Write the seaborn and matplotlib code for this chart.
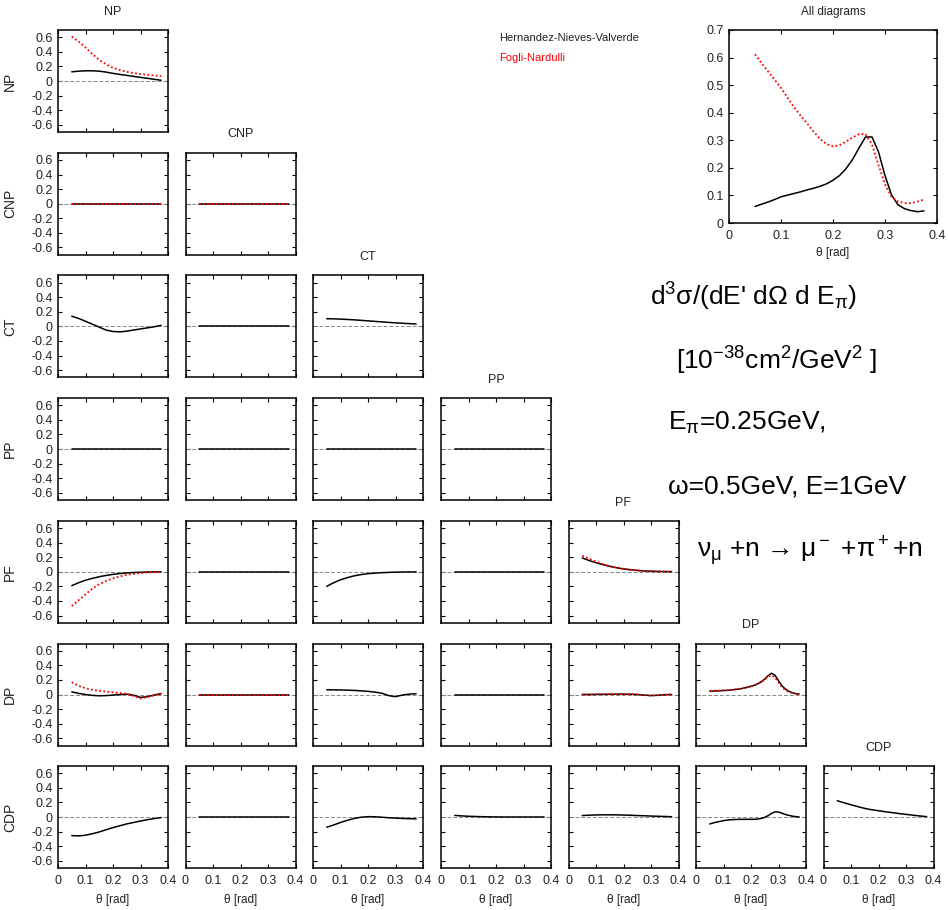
import matplotlib
matplotlib.use("Agg")
import matplotlib.pyplot as plt
import seaborn as sns

sns.set_style("ticks")
plt.rcParams["font.family"] = ["Liberation Sans", "DejaVu Sans"]
plt.rcParams["mathtext.fontset"] = "custom"
plt.rcParams["mathtext.rm"] = "Liberation Sans"
plt.rcParams["mathtext.it"] = "Liberation Sans:italic"
plt.rcParams["mathtext.bf"] = "Liberation Sans:bold"
plt.rcParams["mathtext.sf"] = "Liberation Sans"
plt.rcParams["mathtext.default"] = "regular"

# ---------------- data ----------------
diagrams = ["NP", "CNP", "CT", "PP", "PF", "DP", "CDP"]

theta = [0.05, 0.075, 0.1, 0.125, 0.15, 0.175, 0.2, 0.225, 0.25, 0.275,
         0.3, 0.325, 0.35, 0.375]
theta_fine = [0.05, 0.0625, 0.075, 0.0875, 0.1, 0.1125, 0.125, 0.1375, 0.15,
              0.1625, 0.175, 0.1875, 0.2, 0.2125, 0.225, 0.2375, 0.25, 0.2625,
              0.275, 0.2875, 0.3, 0.3125, 0.325, 0.3375, 0.35, 0.3625, 0.375]

# "All diagrams" panel (Hernandez-Nieves-Valverde = hnv, Fogli-Nardulli = fn)
all_hnv = [0.060, 0.068, 0.076, 0.085, 0.095, 0.101, 0.107, 0.113, 0.120,
           0.126, 0.133, 0.142, 0.155, 0.172, 0.197, 0.230, 0.272, 0.312,
           0.312, 0.258, 0.172, 0.102, 0.066, 0.052, 0.045, 0.041, 0.044]
all_fn = [0.612, 0.580, 0.550, 0.520, 0.490, 0.455, 0.420, 0.390, 0.362,
          0.332, 0.305, 0.286, 0.278, 0.282, 0.295, 0.310, 0.322, 0.323,
          0.285, 0.210, 0.140, 0.095, 0.078, 0.072, 0.072, 0.078, 0.085]

# row NP
np_np_hnv = [0.126, 0.135, 0.140, 0.140, 0.135, 0.122, 0.105, 0.090, 0.077,
             0.063, 0.050, 0.037, 0.023, 0.010]
np_np_fn = [0.610, 0.540, 0.460, 0.370, 0.290, 0.230, 0.180, 0.150, 0.126,
            0.108, 0.095, 0.085, 0.076, 0.068]

# row CNP
cnp_np_hnv = [0.0, 0.0, 0.0, 0.0, 0.0, 0.0, 0.0, 0.0, 0.0, 0.0, 0.0, 0.0, 0.0, 0.0]
cnp_np_fn = [0.0, 0.0, 0.0, 0.0, 0.0, 0.0, 0.0, 0.0, 0.0, 0.0, 0.0, 0.0, 0.0, 0.0]
cnp_cnp_hnv = [0.0, 0.0, 0.0, 0.0, 0.0, 0.0, 0.0, 0.0, 0.0, 0.0, 0.0, 0.0, 0.0, 0.0]
cnp_cnp_fn = [0.0, 0.0, 0.0, 0.0, 0.0, 0.0, 0.0, 0.0, 0.0, 0.0, 0.0, 0.0, 0.0, 0.0]

# row CT
ct_np_hnv = [0.140, 0.110, 0.070, 0.030, -0.010, -0.050, -0.070, -0.075,
             -0.065, -0.050, -0.035, -0.020, -0.005, 0.015]
ct_cnp_hnv = [0.0, 0.0, 0.0, 0.0, 0.0, 0.0, 0.0, 0.0, 0.0, 0.0, 0.0, 0.0, 0.0, 0.0]
ct_ct_hnv = [0.105, 0.104, 0.100, 0.095, 0.090, 0.083, 0.076, 0.069, 0.062,
             0.055, 0.049, 0.043, 0.038, 0.033]

# row PP
pp_np_hnv = [0.0, 0.0, 0.0, 0.0, 0.0, 0.0, 0.0, 0.0, 0.0, 0.0, 0.0, 0.0, 0.0, 0.0]
pp_cnp_hnv = [0.0, 0.0, 0.0, 0.0, 0.0, 0.0, 0.0, 0.0, 0.0, 0.0, 0.0, 0.0, 0.0, 0.0]
pp_ct_hnv = [0.0, 0.0, 0.0, 0.0, 0.0, 0.0, 0.0, 0.0, 0.0, 0.0, 0.0, 0.0, 0.0, 0.0]
pp_pp_hnv = [0.0, 0.0, 0.0, 0.0, 0.0, 0.0, 0.0, 0.0, 0.0, 0.0, 0.0, 0.0, 0.0, 0.0]

# row PF
pf_np_hnv = [-0.190, -0.150, -0.115, -0.090, -0.068, -0.050, -0.035, -0.024,
             -0.016, -0.010, -0.006, -0.003, -0.001, 0.0]
pf_np_fn = [-0.470, -0.390, -0.310, -0.230, -0.170, -0.125, -0.090, -0.063,
            -0.042, -0.028, -0.018, -0.010, -0.005, -0.001]
pf_cnp_hnv = [0.0, 0.0, 0.0, 0.0, 0.0, 0.0, 0.0, 0.0, 0.0, 0.0, 0.0, 0.0, 0.0, 0.0]
pf_ct_hnv = [-0.200, -0.150, -0.110, -0.080, -0.055, -0.038, -0.026, -0.018,
             -0.012, -0.008, -0.005, -0.003, -0.002, -0.001]
pf_pp_hnv = [0.0, 0.0, 0.0, 0.0, 0.0, 0.0, 0.0, 0.0, 0.0, 0.0, 0.0, 0.0, 0.0, 0.0]
pf_pf_hnv = [0.190, 0.155, 0.125, 0.098, 0.075, 0.055, 0.040, 0.028, 0.019,
             0.012, 0.008, 0.005, 0.003, 0.002]
pf_pf_fn = [0.220, 0.180, 0.140, 0.105, 0.078, 0.057, 0.041, 0.029, 0.020,
            0.013, 0.009, 0.006, 0.004, 0.002]

# row DP
dp_np_hnv = [0.036, 0.015, 0.000, -0.012, -0.018, -0.015, -0.008, 0.000,
             0.005, -0.010, -0.040, -0.030, -0.008, 0.012]
dp_np_fn = [0.170, 0.120, 0.085, 0.065, 0.050, 0.040, 0.030, 0.020, 0.010,
            -0.020, -0.055, -0.035, -0.010, 0.014]
dp_cnp_hnv = [0.0, 0.0, 0.0, 0.0, 0.0, 0.0, 0.0, 0.0, 0.0, 0.0, 0.0, 0.0, 0.0, 0.0]
dp_cnp_fn = [0.0, 0.0, 0.0, 0.0, 0.0, 0.0, 0.0, 0.0, 0.0, 0.0, 0.0, 0.0, 0.0, 0.0]
dp_ct_hnv = [0.065, 0.064, 0.062, 0.060, 0.056, 0.050, 0.043, 0.033, 0.018,
             -0.015, -0.030, -0.008, 0.005, 0.010]
dp_pp_hnv = [0.0, 0.0, 0.0, 0.0, 0.0, 0.0, 0.0, 0.0, 0.0, 0.0, 0.0, 0.0, 0.0, 0.0]
dp_pf_hnv = [0.000, 0.000, 0.002, 0.003, 0.004, 0.005, 0.005, 0.004, 0.000,
             -0.008, -0.015, -0.010, -0.003, 0.000]
dp_pf_fn = [0.000, 0.000, 0.002, 0.003, 0.004, 0.005, 0.005, 0.004, 0.000,
            -0.008, -0.014, -0.010, -0.003, 0.000]
dp_dp_hnv = [0.046, 0.047, 0.049, 0.051, 0.054, 0.057, 0.061, 0.066, 0.072,
             0.079, 0.088, 0.099, 0.112, 0.128, 0.148, 0.175, 0.210, 0.260,
             0.292, 0.262, 0.190, 0.120, 0.075, 0.045, 0.025, 0.012, 0.005]
dp_dp_fn = [0.052, 0.052, 0.053, 0.054, 0.056, 0.059, 0.063, 0.068, 0.074,
            0.081, 0.090, 0.100, 0.112, 0.127, 0.146, 0.172, 0.205, 0.245,
            0.265, 0.230, 0.165, 0.100, 0.060, 0.035, 0.020, 0.010, 0.004]

# row CDP
cdp_np_hnv = [-0.255, -0.260, -0.250, -0.230, -0.205, -0.175, -0.145, -0.120,
              -0.095, -0.075, -0.055, -0.037, -0.022, -0.008]
cdp_cnp_hnv = [0.0, 0.0, 0.0, 0.0, 0.0, 0.0, 0.0, 0.0, 0.0, 0.0, 0.0, 0.0, 0.0, 0.0]
cdp_ct_hnv = [-0.140, -0.110, -0.075, -0.045, -0.020, -0.003, 0.005, 0.003,
              -0.003, -0.010, -0.015, -0.020, -0.023, -0.025]
cdp_pp_hnv = [0.022, 0.015, 0.010, 0.007, 0.004, 0.002, 0.001, 0.0, 0.0, 0.0,
              0.0, 0.0, 0.0, 0.0]
cdp_pf_hnv = [0.020, 0.025, 0.028, 0.030, 0.030, 0.029, 0.027, 0.024, 0.020,
              0.017, 0.013, 0.010, 0.007, 0.004]
cdp_dp_hnv = [-0.095, -0.082, -0.070, -0.060, -0.050, -0.043, -0.038, -0.035,
              -0.033, -0.032, -0.032, -0.032, -0.032, -0.031, -0.028, -0.020,
              -0.005, 0.020, 0.050, 0.070, 0.068, 0.052, 0.035, 0.022, 0.012,
              0.005, 0.000]
cdp_cdp_hnv = [0.223, 0.195, 0.168, 0.142, 0.118, 0.100, 0.086, 0.072, 0.060,
               0.047, 0.036, 0.025, 0.014, 0.005]

x_ticks = [0, 0.1, 0.2, 0.3, 0.4]
x_ticklabels = ["0", "0.1", "0.2", "0.3", "0.4"]
y_ticks_small = [-0.6, -0.4, -0.2, 0, 0.2, 0.4, 0.6]
y_ticklabels_small = ["-0.6", "-0.4", "-0.2", "0", "0.2", "0.4", "0.6"]
y_ticks_all = [0, 0.1, 0.2, 0.3, 0.4, 0.5, 0.6, 0.7]
y_ticklabels_all = ["0", "0.1", "0.2", "0.3", "0.4", "0.5", "0.6", "0.7"]

# panel table: (row, col) -> (theta grid, hnv curve, fn curve or None)
panels = {
    (0, 0): (theta, np_np_hnv, np_np_fn),
    (1, 0): (theta, cnp_np_hnv, cnp_np_fn),
    (1, 1): (theta, cnp_cnp_hnv, cnp_cnp_fn),
    (2, 0): (theta, ct_np_hnv, None),
    (2, 1): (theta, ct_cnp_hnv, None),
    (2, 2): (theta, ct_ct_hnv, None),
    (3, 0): (theta, pp_np_hnv, None),
    (3, 1): (theta, pp_cnp_hnv, None),
    (3, 2): (theta, pp_ct_hnv, None),
    (3, 3): (theta, pp_pp_hnv, None),
    (4, 0): (theta, pf_np_hnv, pf_np_fn),
    (4, 1): (theta, pf_cnp_hnv, None),
    (4, 2): (theta, pf_ct_hnv, None),
    (4, 3): (theta, pf_pp_hnv, None),
    (4, 4): (theta, pf_pf_hnv, pf_pf_fn),
    (5, 0): (theta, dp_np_hnv, dp_np_fn),
    (5, 1): (theta, dp_cnp_hnv, dp_cnp_fn),
    (5, 2): (theta, dp_ct_hnv, None),
    (5, 3): (theta, dp_pp_hnv, None),
    (5, 4): (theta, dp_pf_hnv, dp_pf_fn),
    (5, 5): (theta_fine, dp_dp_hnv, dp_dp_fn),
    (6, 0): (theta, cdp_np_hnv, None),
    (6, 1): (theta, cdp_cnp_hnv, None),
    (6, 2): (theta, cdp_ct_hnv, None),
    (6, 3): (theta, cdp_pp_hnv, None),
    (6, 4): (theta, cdp_pf_hnv, None),
    (6, 5): (theta_fine, cdp_dp_hnv, None),
    (6, 6): (theta, cdp_cdp_hnv, None),
}

# ---------------- figure ----------------
W, H = 948, 910
fig = plt.figure(figsize=(W / 100, H / 100), dpi=100)
fig.patch.set_facecolor("white")
TXT = "#222222"


def add_ax(left, top, w, h):
    return fig.add_axes([left / W, 1 - (top + h) / H, w / W, h / H])


def style_frame(ax):
    ax.set_facecolor("white")
    for s in ax.spines.values():
        s.set_visible(True)
        s.set_color("black")
        s.set_linewidth(1.1)
    ax.tick_params(direction="in", top=True, right=True, length=3,
                   width=0.8, color="black", labelsize=9, pad=4,
                   labelcolor=TXT)


HNV_KW = dict(color="black", linewidth=1.1)
FN_KW = dict(color="red", linewidth=1.3, linestyle=(0, (1, 1.3)))

col_left = [58, 185.5, 313, 441, 568.5, 696, 823.5]
row_top = [30, 152.7, 275.4, 398, 520.8, 643.5, 766]
PW, PH = 110, 102

for (r, c), (th, hnv, fn) in panels.items():
    ax = add_ax(col_left[c], row_top[r], PW, PH)
    style_frame(ax)
    ax.axhline(0, color="#888888", linewidth=0.7, linestyle=(0, (4, 2)),
               zorder=1)
    sns.lineplot(x=th, y=hnv, ax=ax, estimator=None, sort=False,
                 legend=False, zorder=3, **HNV_KW)
    if fn is not None:
        sns.lineplot(x=th, y=fn, ax=ax, estimator=None, sort=False,
                     legend=False, zorder=4, **FN_KW)
    ax.set_xlim(0, 0.4)
    ax.set_ylim(-0.7, 0.7)
    ax.set_xticks(x_ticks)
    ax.set_yticks(y_ticks_small)
    if c == 0:
        ax.set_yticklabels(y_ticklabels_small)
        ax.set_ylabel(diagrams[r], fontsize=10, color=TXT)
        ax.yaxis.set_label_coords(-0.37, 0.5)
    else:
        ax.set_yticklabels([])
        ax.set_ylabel("")
    if r == 6:
        ax.set_xticklabels(x_ticklabels)
        ax.tick_params(axis="x", pad=5)
        ax.set_xlabel("θ [rad]", fontsize=8.5, color=TXT)
        ax.xaxis.set_label_coords(0.5, -0.25)
    else:
        ax.set_xticklabels([])
        ax.set_xlabel("")
    if r == c:
        ax.set_title(diagrams[r], fontsize=9, pad=11, color=TXT)

# "All diagrams" panel
axA = add_ax(729, 30, 208, 193)
style_frame(axA)
sns.lineplot(x=theta_fine, y=all_hnv, ax=axA, estimator=None, sort=False,
             legend=False, zorder=3, **HNV_KW)
sns.lineplot(x=theta_fine, y=all_fn, ax=axA, estimator=None, sort=False,
             legend=False, zorder=4, **FN_KW)
axA.set_xlim(0, 0.4)
axA.set_ylim(0, 0.7)
axA.set_xticks(x_ticks)
axA.set_xticklabels(x_ticklabels)
axA.set_yticks(y_ticks_all)
axA.set_yticklabels(y_ticklabels_all)
axA.tick_params(axis="x", pad=5)
axA.set_xlabel("θ [rad]", fontsize=8.5, color=TXT)
axA.xaxis.set_label_coords(0.5, -0.125)
axA.set_ylabel("")
axA.set_title("All diagrams", fontsize=8.5, pad=11, color=TXT)

# legend texts
fig.text(499 / W, 1 - 38 / H, "Hernandez-Nieves-Valverde", fontsize=8,
         color=TXT, ha="left", va="center")
fig.text(499 / W, 1 - 58 / H, "Fogli-Nardulli", fontsize=8,
         color="red", ha="left", va="center")

# big annotation texts
big = 19
fig.text(650 / W, 1 - 306 / H, "d$^3$σ/(dE' dΩ d E$_π$)", fontsize=big,
         ha="left", va="baseline", color="black")
fig.text(676 / W, 1 - 370 / H, "[10$^{-38}$cm$^2$/GeV$^2$ ]", fontsize=big,
         ha="left", va="baseline", color="black")
fig.text(668 / W, 1 - 430 / H, "E$_π$=0.25GeV,", fontsize=big,
         ha="left", va="baseline", color="black")
fig.text(668 / W, 1 - 494 / H, "ω=0.5GeV, E=1GeV", fontsize=big,
         ha="left", va="baseline", color="black")
fig.text(697 / W, 1 - 557 / H, "ν$_μ$ +n → μ$^-$ +π$^+$+n", fontsize=big,
         ha="left", va="baseline", color="black")

fig.savefig("out.png", dpi=100, facecolor="white")
